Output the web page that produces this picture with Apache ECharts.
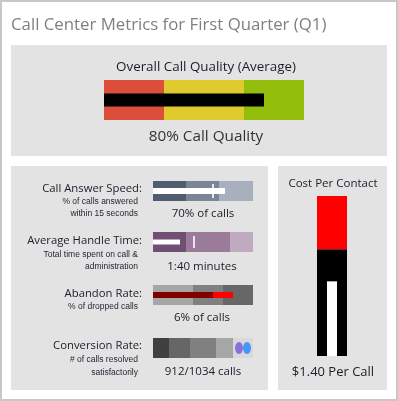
<!DOCTYPE html>
<html>
<head>
<meta charset="utf-8">
<script src="https://cdn.jsdelivr.net/npm/echarts@6/dist/echarts.min.js"></script>
<style>
html,body{margin:0;padding:0;background:#fff;}
#main{width:398px;height:401px;}
</style>
</head>
<body>
<div id="main"></div>
<script>
// bands are stacked widths, scale 0..100
var qualityBands = [30, 40, 30];
var qualityValue = [80];

var speedBands = [33, 33, 34];
var speedValue = [72];
var speedTarget = [60];

var handleBands = [33, 44, 23];
var handleValue = [27];
var handleTarget = [41];

var abandonBands = [40, 30, 30];
var abandonValue = [80];
var abandonInner = [60];

var convBands = [16, 21, 26, 17, 20];
var convValue = [86];
var convTarget = [94];

// dollars, scale 0..3
var costBands = [2, 1];
var costValue = [1.4];

var chart = echarts.init(document.getElementById('main'));

var grids = [], xAxes = [], yAxes = [], series = [];

// horizontal bullet: returns index of the measure axis
function hBullet(left, top, w, h, max, bands, colors){
  var g = grids.length;
  grids.push({left: left, top: top, width: w, height: h});
  xAxes.push({gridIndex: g, type: 'value', min: 0, max: max, show: false});
  var yBand = yAxes.length;
  yAxes.push({gridIndex: g, type: 'category', data: ['a'], show: false});
  yAxes.push({gridIndex: g, type: 'category', data: ['a'], show: false});
  for (var j = 0; j < bands.length; j++) {
    series.push({type: 'bar', xAxisIndex: xAxes.length - 1, yAxisIndex: yBand,
      stack: 's' + g, barWidth: h, data: [bands[j]], itemStyle: {color: colors[j]}});
  }
  return {x: xAxes.length - 1, y: yBand + 1};
}

var a0 = hBullet(104, 80, 200, 40, 100, qualityBands, ['#de4f3b', '#e0cb2f', '#93be0b']);
series.push({type: 'bar', xAxisIndex: a0.x, yAxisIndex: a0.y, barWidth: 13,
  data: qualityValue, itemStyle: {color: '#000'}});

var a1 = hBullet(153, 181, 100, 20, 100, speedBands, ['#505c70', '#7a8598', '#a9b0bd']);
series.push({type: 'bar', xAxisIndex: a1.x, yAxisIndex: a1.y, barWidth: 6,
  data: speedValue, itemStyle: {color: '#fff'}});
series.push({type: 'scatter', xAxisIndex: a1.x, yAxisIndex: a1.y, symbol: 'rect',
  symbolSize: [2, 14], data: speedTarget, itemStyle: {color: '#fff'}});

var a2 = hBullet(153, 232, 100, 20, 100, handleBands, ['#714f72', '#9a7c9a', '#bfaabf']);
series.push({type: 'bar', xAxisIndex: a2.x, yAxisIndex: a2.y, barWidth: 5,
  data: handleValue, itemStyle: {color: '#fff'}});
series.push({type: 'scatter', xAxisIndex: a2.x, yAxisIndex: a2.y, symbol: 'rect',
  symbolSize: [2, 12], data: handleTarget, itemStyle: {color: '#fff'}});

var a3 = hBullet(153, 285, 100, 20, 100, abandonBands, ['#a6a6a6', '#808080', '#676767']);
series.push({type: 'bar', xAxisIndex: a3.x, yAxisIndex: a3.y, barWidth: 6, barGap: '-100%',
  data: abandonValue, itemStyle: {color: '#ff0000'}});
series.push({type: 'bar', xAxisIndex: a3.x, yAxisIndex: a3.y, barWidth: 6, barGap: '-100%',
  data: abandonInner, itemStyle: {color: '#800000'}});

var a4 = hBullet(153, 338, 100, 20, 100, convBands, ['#404040', '#666666', '#808080', '#a6a6a6', '#d9d9d9']);
series.push({type: 'scatter', xAxisIndex: a4.x, yAxisIndex: a4.y, symbol: 'circle',
  symbolSize: [8, 12], data: convValue, itemStyle: {color: '#7656d3'}});
series.push({type: 'scatter', xAxisIndex: a4.x, yAxisIndex: a4.y, symbol: 'circle',
  symbolSize: [8, 12], data: convTarget, itemStyle: {color: '#1b87ff'}});

// vertical bullet for cost
var gc = grids.length;
grids.push({left: 317, top: 196, width: 30, height: 160});
yAxes.push({gridIndex: gc, type: 'value', min: 0, max: 3, show: false});
var xc = xAxes.length;
xAxes.push({gridIndex: gc, type: 'category', data: ['a'], show: false});
xAxes.push({gridIndex: gc, type: 'category', data: ['a'], show: false});
var costColors = ['#000000', '#ff0000'];
for (var k = 0; k < costBands.length; k++) {
  series.push({type: 'bar', xAxisIndex: xc, yAxisIndex: yAxes.length - 1, stack: 'cost',
    barWidth: 30, data: [costBands[k]], itemStyle: {color: costColors[k]}});
}
series.push({type: 'bar', xAxisIndex: xc + 1, yAxisIndex: yAxes.length - 1, barWidth: 10,
  data: costValue, itemStyle: {color: '#fff'}});

function txt(s, x, y, size, color, align, font){
  return {type: 'text', silent: true, z: 10, style: {text: s, x: x, y: y,
    textAlign: align || 'center', textVerticalAlign: 'middle',
    font: size + 'px ' + (font || '"Open Sans", sans-serif'), fill: color}};
}

var dark = '#1c1c2a';
var sub = '#262636';
var subFont = '"Liberation Sans", sans-serif';

var graphics = [
  {type: 'rect', silent: true, z: 0, shape: {x: 1, y: 1, width: 396, height: 399},
    style: {fill: '#fff', stroke: '#c8c8c8', lineWidth: 2}},
  {type: 'rect', silent: true, z: 0, shape: {x: 11, y: 45, width: 376, height: 111}, style: {fill: '#e3e3e3'}},
  {type: 'rect', silent: true, z: 0, shape: {x: 11, y: 166, width: 257, height: 224}, style: {fill: '#e3e3e3'}},
  {type: 'rect', silent: true, z: 0, shape: {x: 278, y: 166, width: 109, height: 224}, style: {fill: '#e3e3e3'}},
  txt('Call Center Metrics for First Quarter (Q1)', 11, 25, 16.8, '#7f7f7f', 'left'),
  txt('Overall Call Quality (Average)', 206, 67, 13.4, dark),
  txt('80% Call Quality', 206, 137, 15.3, '#333'),

  txt('Call Answer Speed:', 142, 189, 11.3, dark, 'right'),
  txt('% of calls answered', 138, 202, 8.5, sub, 'right', subFont),
  txt('within 15 seconds', 138, 214, 8.5, sub, 'right', subFont),
  txt('70% of calls', 203, 214, 11.5, dark),

  txt('Average Handle Time:', 142, 241, 11.3, dark, 'right'),
  txt('Total time spent on call &', 138, 255, 8.5, sub, 'right', subFont),
  txt('administration', 138, 267, 8.5, sub, 'right', subFont),
  txt('1:40 minutes', 202, 267, 11.5, dark),

  txt('Abandon Rate:', 142, 294, 11.3, dark, 'right'),
  txt('% of dropped calls', 138, 307, 8.5, sub, 'right', subFont),
  txt('6% of calls', 202, 318, 11.5, dark),

  txt('Conversion Rate:', 142, 346, 11.3, dark, 'right'),
  txt('# of calls resolved', 138, 360, 8.5, sub, 'right', subFont),
  txt('satisfactorily', 138, 373, 8.5, sub, 'right', subFont),
  txt('912/1034 calls', 203, 372, 11.5, dark),

  txt('Cost Per Contact', 333, 184, 11.5, dark),
  txt('$1.40 Per Call', 333, 372, 13, dark)
];

chart.setOption({
  animation: false,
  grid: grids,
  xAxis: xAxes,
  yAxis: yAxes,
  graphic: graphics,
  series: series
});
</script>
</body>
</html>
